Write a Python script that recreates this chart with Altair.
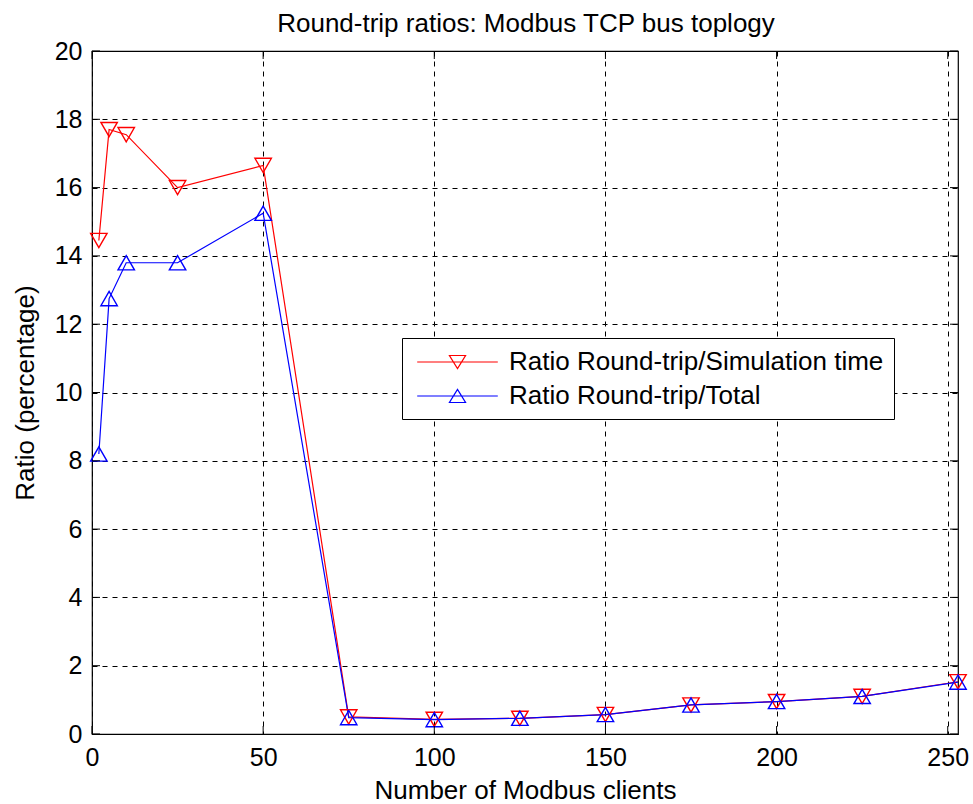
import altair as alt
import pandas as pd

clients = [2, 5, 10, 25, 50, 75, 100, 125, 150, 175, 200, 225, 253]
ratio_sim = [14.45, 17.7, 17.55, 16.0, 16.65, 0.5, 0.43, 0.46, 0.57, 0.85, 0.95, 1.1, 1.53]
ratio_total = [8.2, 12.75, 13.8, 13.8, 15.25, 0.48, 0.42, 0.46, 0.57, 0.85, 0.95, 1.1, 1.52]
series_names = ["Ratio Round-trip/Simulation time", "Ratio Round-trip/Total"]
series_colors = ["#ff0000", "#0000ff"]
x_ticks = [0, 50, 100, 150, 200, 250]
y_ticks = [0, 2, 4, 6, 8, 10, 12, 14, 16, 18, 20]
chart_title = "Round-trip ratios: Modbus TCP bus toplogy"

rows = []
for name, vals in zip(series_names, [ratio_sim, ratio_total]):
    for c, v in zip(clients, vals):
        rows.append({"clients": c, "ratio": v, "series": name})
df = pd.DataFrame(rows)

W, H = 866, 683
FONT = "Liberation Sans"

xs = alt.Scale(domain=[0, 253], nice=False, zero=False)
ys = alt.Scale(domain=[0, 20], nice=False)

x_enc = alt.X("clients:Q", scale=xs, axis=alt.Axis(
    values=x_ticks, title="Number of Modbus clients", grid=True, ticks=False,
    domain=False, labelPadding=11, titlePadding=7, labelFlush=False))
y_enc = alt.Y("ratio:Q", scale=ys, axis=alt.Axis(
    values=y_ticks, title="Ratio (percentage)", grid=True, ticks=False,
    domain=False, labelPadding=10, titlePadding=16))

color_plain = alt.Color("series:N", scale=alt.Scale(domain=series_names, range=series_colors), legend=None)

lines = alt.Chart(df).mark_line(strokeWidth=1.2, clip=False).encode(
    x=x_enc, y=y_enc, color=color_plain, detail="series:N")

points = alt.Chart(df).mark_point(filled=False, size=270, strokeWidth=1.4, opacity=1, clip=False).encode(
    x="clients:Q", y="ratio:Q", color=color_plain,
    shape=alt.Shape("series:N", scale=alt.Scale(domain=series_names, range=["triangle-down", "triangle-up"]), legend=None))

leg_down = "M-3.1,0H3.1M-0.62,-0.5H0.62L0,0.5Z"
leg_up = "M-3.1,0H3.1M-0.62,0.5H0.62L0,-0.5Z"
legend_layer = alt.Chart(df).mark_point(filled=False, opacity=0, size=676).encode(
    x="clients:Q", y="ratio:Q",
    color=alt.Color("series:N", scale=alt.Scale(domain=series_names, range=series_colors), legend=alt.Legend(
        title=None, orient="none", legendX=310, legendY=287, fillColor="white", strokeColor="black",
        padding=10, symbolOpacity=1, symbolSize=676, symbolStrokeWidth=1.2, symbolOffset=31.5,
        labelOffset=37.5, labelFont=FONT, labelFontSize=26, labelColor="black", labelLimit=800,
        rowPadding=7)),
    shape=alt.Shape("series:N", scale=alt.Scale(domain=series_names, range=[leg_down, leg_up]), legend=alt.Legend(
        title=None, orient="none", legendX=310, legendY=287)))

xt = pd.DataFrame({"t": x_ticks})
yt = pd.DataFrame({"t": y_ticks})
tick_bot = alt.Chart(xt).mark_rule(color="black", strokeWidth=1).encode(x="t:Q", y=alt.value(H), y2=alt.value(H - 8))
tick_top = alt.Chart(xt).mark_rule(color="black", strokeWidth=1).encode(x="t:Q", y=alt.value(0), y2=alt.value(8))
tick_left = alt.Chart(yt).mark_rule(color="black", strokeWidth=1).encode(y="t:Q", x=alt.value(0), x2=alt.value(8))
tick_right = alt.Chart(yt).mark_rule(color="black", strokeWidth=1).encode(y="t:Q", x=alt.value(W), x2=alt.value(W - 8))

title_df = pd.DataFrame({"label": [chart_title]})
title_layer = alt.Chart(title_df).mark_text(
    font=FONT, fontSize=26, color="black", align="center", baseline="alphabetic", clip=False
).encode(text="label:N", x=alt.value(W / 2 + 1), y=alt.value(-19))

chart = alt.layer(
    lines, points, legend_layer, tick_bot, tick_top, tick_left, tick_right, title_layer
).resolve_scale(color="independent", shape="independent").properties(
    width=W, height=H,
    autosize=alt.AutoSizeParams(type="none"),
    padding={"left": 92, "top": 51, "right": 15, "bottom": 70},
    background="white",
).configure_view(stroke="black", strokeWidth=1.2).configure_axis(
    gridColor="black", gridDash=[5, 5], gridWidth=1, gridOpacity=1,
    labelFont=FONT, labelFontSize=25, labelColor="black",
    titleFont=FONT, titleFontSize=26, titleColor="black", titleFontWeight="normal")

chart.save("out.html", embed_options={"renderer": "svg", "actions": False})
